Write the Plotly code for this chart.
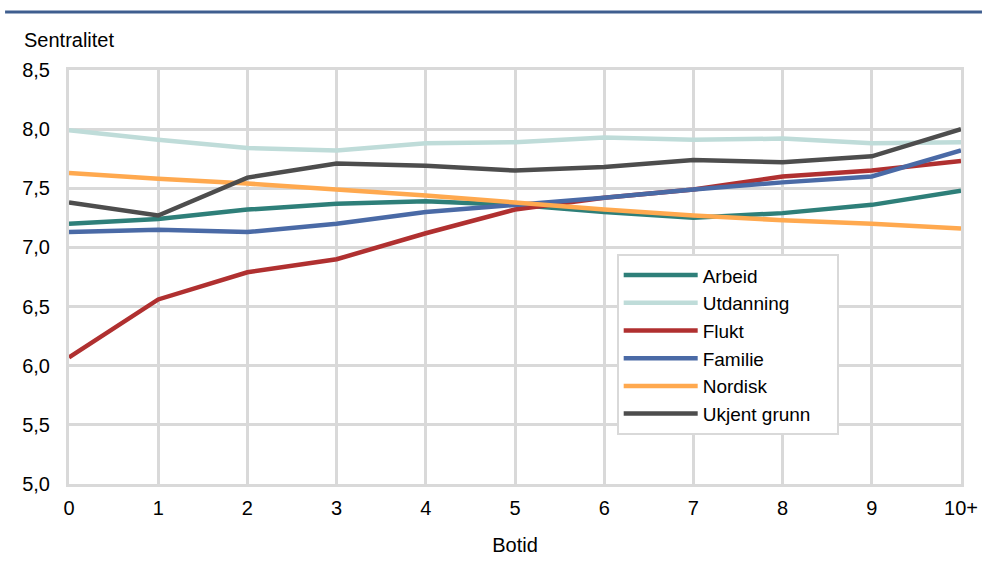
import plotly.graph_objects as go

botid = ["0", "1", "2", "3", "4", "5", "6", "7", "8", "9", "10+"]

arbeid = [7.20, 7.24, 7.32, 7.37, 7.39, 7.36, 7.30, 7.25, 7.29, 7.36, 7.48]
utdanning = [7.99, 7.91, 7.84, 7.82, 7.88, 7.89, 7.93, 7.91, 7.92, 7.88, 7.89]
flukt = [6.07, 6.56, 6.79, 6.90, 7.12, 7.32, 7.42, 7.49, 7.60, 7.65, 7.73]
familie = [7.13, 7.15, 7.13, 7.20, 7.30, 7.36, 7.42, 7.49, 7.55, 7.60, 7.82]
nordisk = [7.63, 7.58, 7.54, 7.49, 7.44, 7.38, 7.32, 7.27, 7.23, 7.20, 7.16]
ukjent = [7.38, 7.27, 7.59, 7.71, 7.69, 7.65, 7.68, 7.74, 7.72, 7.77, 8.00]

series = [
    ("Arbeid", arbeid, "#2e7f79"),
    ("Utdanning", utdanning, "#bfdcd9"),
    ("Flukt", flukt, "#b03030"),
    ("Familie", familie, "#4a6aa6"),
    ("Nordisk", nordisk, "#ffa94f"),
    ("Ukjent grunn", ukjent, "#4d4d4d"),
]

grid = "#d9d9d9"
font = "Liberation Sans, Arial, sans-serif"
pad = "\u00a0" * 4  # a bit of room on the right of the legend box

fig = go.Figure()
xs = list(range(len(botid)))
for name, vals, color in series:
    fig.add_trace(go.Scatter(x=xs, y=vals, mode="lines", name=name + pad,
                             line=dict(color=color, width=4.5)))

fig.update_layout(
    width=982, height=561,
    margin=dict(l=69, r=21, t=70, b=77),
    paper_bgcolor="white", plot_bgcolor="white",
    font=dict(family=font, size=20, color="#000000"),
    separators=",.",
    legend=dict(x=0.614, y=0.555, xanchor="left", yanchor="top",
                bgcolor="white", bordercolor=grid, borderwidth=2,
                font=dict(size=19), tracegroupgap=0, itemwidth=74),
    showlegend=True,
)

fig.update_xaxes(
    range=[0, 10], tickvals=xs, ticktext=botid, automargin=False,
    showgrid=True, gridcolor=grid, gridwidth=3,
    showline=True, linecolor=grid, linewidth=3, mirror=True,
    zeroline=False, ticks="", ticklabelstandoff=4,
    title=dict(text="Botid", font=dict(size=20), standoff=20),
)
fig.update_yaxes(
    range=[5, 8.5], dtick=0.5, tickformat=".1f", automargin=False,
    showgrid=True, gridcolor=grid, gridwidth=3,
    showline=True, linecolor=grid, linewidth=3, mirror=True,
    zeroline=False, ticks="", ticklabelstandoff=12,
)

fig.add_annotation(text="Sentralitet", xref="paper", yref="paper",
                   x=-47 / 893, y=1 + 30 / 414, xanchor="left", yanchor="middle",
                   showarrow=False, font=dict(size=20))

fig.add_shape(type="line", xref="paper", yref="paper",
              x0=-64 / 893, x1=1 + 21 / 893, y0=1 + 58 / 414, y1=1 + 58 / 414,
              line=dict(color="#3f5e8f", width=3))

fig.write_html("out.html", config={"displayModeBar": False},
               post_script="document.body.style.margin='0';")
